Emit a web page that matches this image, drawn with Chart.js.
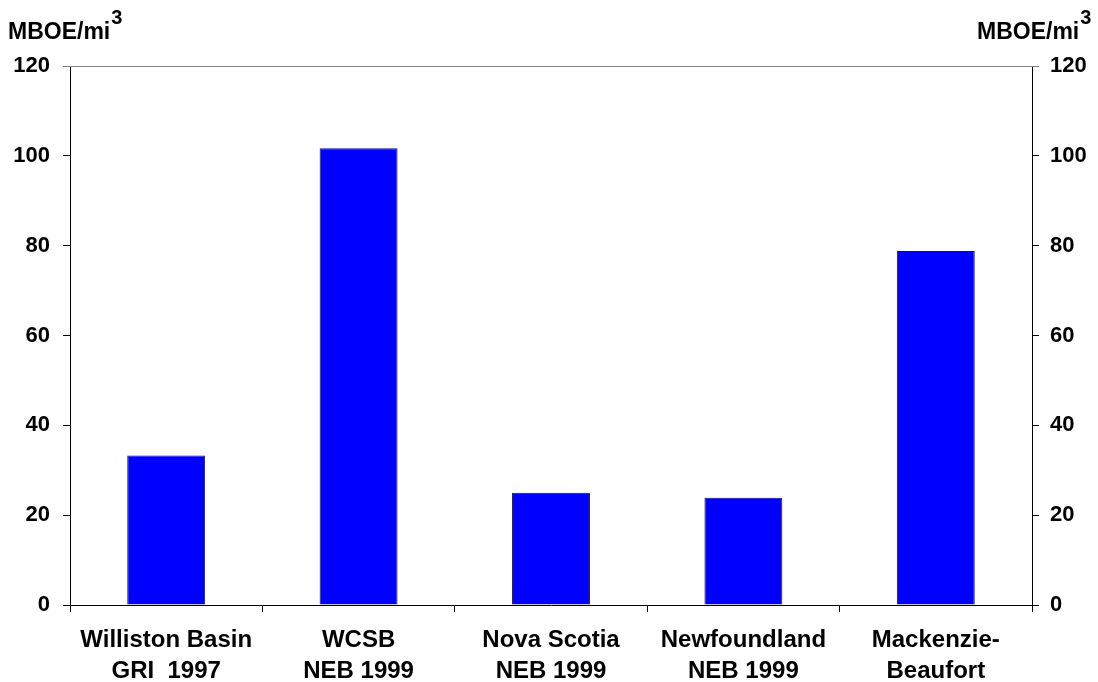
<!DOCTYPE html>
<html>
<head>
<meta charset="utf-8">
<script src="https://cdn.jsdelivr.net/npm/chart.js@4/dist/chart.umd.min.js"></script>
<style>
  html, body { margin: 0; padding: 0; background: #fff; }
  #wrap { width: 1098px; height: 682px; position: relative; }
</style>
</head>
<body>
<div id="wrap"><canvas id="c" width="1098" height="682"></canvas></div>
<script>
// Regions and their estimated hydrocarbon density (MBOE per cubic mile)
const regions = [
  ['Williston Basin', 'GRI  1997'],
  ['WCSB', 'NEB 1999'],
  ['Nova Scotia', 'NEB 1999'],
  ['Newfoundland', 'NEB 1999'],
  ['Mackenzie-', 'Beaufort']
];
const density = [33.3, 101.7, 25.0, 23.9, 78.8];
const axisTicks = [0, 20, 40, 60, 80, 100, 120];
const unitText = 'MBOE/mi';
const unitSup = '3';

const FONT = '"Liberation Sans", Arial, Helvetica, sans-serif';

// Unit captions above both value axes plus the grey frame line at the top
const decorations = {
  id: 'decorations',
  afterDraw(chart) {
    const ctx = chart.ctx;
    const a = chart.chartArea;
    ctx.save();
    ctx.strokeStyle = '#808080';
    ctx.lineWidth = 1;
    ctx.beginPath();
    ctx.moveTo(a.left - 7, Math.round(a.top) + 0.5);
    ctx.lineTo(a.right + 7, Math.round(a.top) + 0.5);
    ctx.stroke();

    ctx.fillStyle = '#000';
    ctx.textBaseline = 'alphabetic';
    ctx.textAlign = 'left';
    const drawUnit = (x) => {
      ctx.font = 'bold 23px ' + FONT;
      ctx.fillText(unitText, x, 39);
      const w = ctx.measureText(unitText).width;
      ctx.font = 'bold 20px ' + FONT;
      ctx.fillText(unitSup, x + w + 1, 24);
    };
    drawUnit(8);
    drawUnit(977);
    ctx.restore();
  }
};

const tickStyle = {
  color: '#000',
  font: { family: FONT, size: 22, weight: 'bold' }
};

new Chart(document.getElementById('c'), {
  type: 'bar',
  data: {
    labels: regions,
    datasets: [{
      data: density,
      backgroundColor: '#0000FF',
      borderColor: '#1a1a1a',
      borderWidth: 1,
      barPercentage: 0.405,
      categoryPercentage: 1.0,
      yAxisID: 'y'
    }]
  },
  options: {
    responsive: false,
    animation: false,
    layout: { padding: { top: 66, left: 0, right: 0, bottom: 0 } },
    plugins: {
      legend: { display: false },
      title: { display: false },
      tooltip: { enabled: false }
    },
    scales: {
      x: {
        offset: true,
        grid: { display: true, drawOnChartArea: false, offset: true, tickLength: 7, tickColor: '#000' },
        border: { color: '#000', width: 1 },
        ticks: {
          color: '#000',
          maxRotation: 0,
          padding: 13,
          font: { family: FONT, size: 24, weight: 'bold', lineHeight: 1.3 }
        },
        afterFit(s) { s.height = 77; }
      },
      y: {
        position: 'left',
        min: 0, max: 120,
        afterBuildTicks(s) { s.ticks = axisTicks.map(v => ({ value: v })); },
        grid: { drawOnChartArea: false, tickLength: 7, tickColor: '#000' },
        border: { color: '#000', width: 1 },
        ticks: Object.assign({ padding: 13 }, tickStyle),
        afterFit(s) { s.width = 70; }
      },
      y2: {
        position: 'right',
        min: 0, max: 120,
        afterBuildTicks(s) { s.ticks = axisTicks.map(v => ({ value: v })); },
        grid: { drawOnChartArea: false, tickLength: 7, tickColor: '#000' },
        border: { color: '#000', width: 1 },
        ticks: Object.assign({ padding: 11 }, tickStyle),
        afterFit(s) { s.width = 66; }
      }
    }
  },
  plugins: [decorations]
});
</script>
</body>
</html>
